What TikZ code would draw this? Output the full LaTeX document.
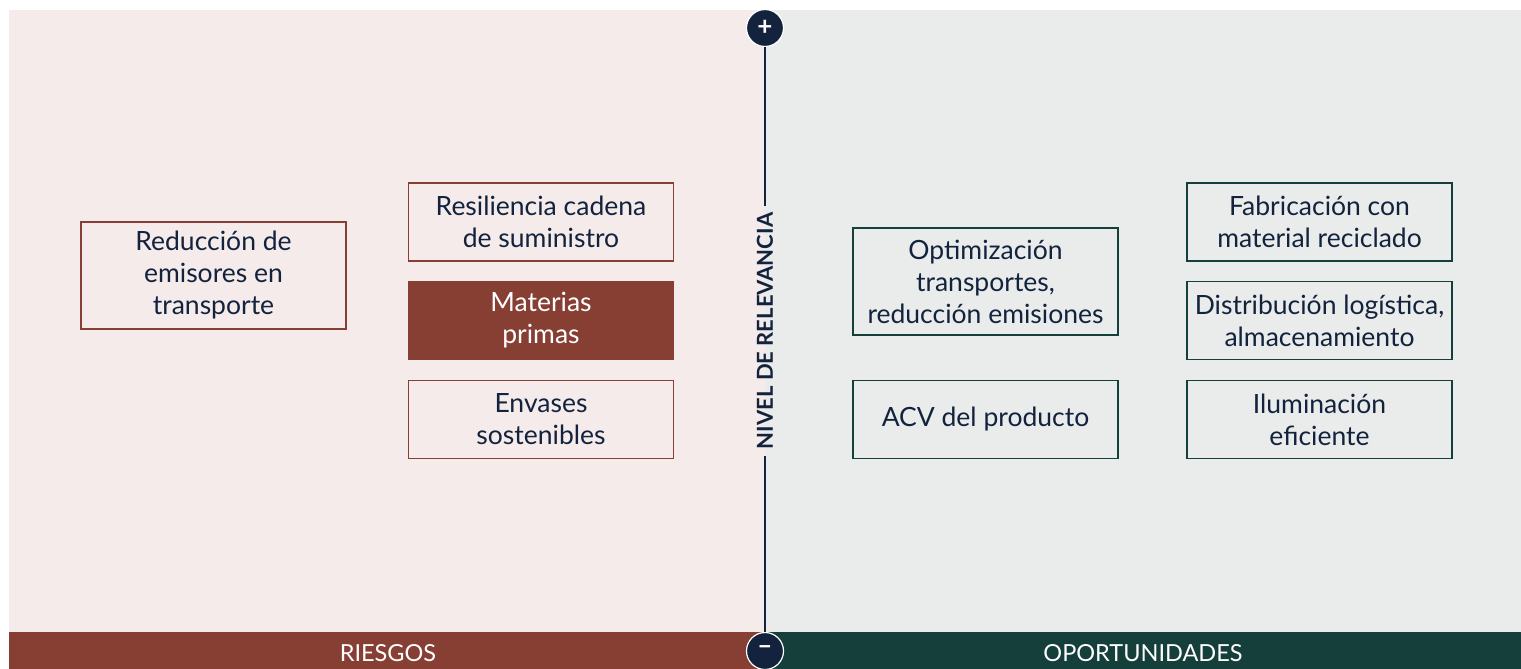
\documentclass[tikz,border=0pt]{standalone}
\usepackage{fontspec}
\setmainfont{Lato}
\usetikzlibrary{positioning,calc}
\definecolor{riskBg}{HTML}{F4EBEA}
\definecolor{oppBg}{HTML}{E9ECEB}
\definecolor{riskRed}{HTML}{873E33}
\definecolor{oppGreen}{HTML}{143F3A}
\definecolor{axisNavy}{HTML}{13233D}
\tikzset{
	riskBox/.style={
		draw=riskRed,
		line width=1.8pt,
		text=axisNavy,
		align=center,
		minimum width=265pt,
		minimum height=78pt,
		font=\fontsize{26.5}{32}\selectfont
	},
	riskBoxDark/.style={
		riskBox,
		fill=riskRed,
		text=white
	},
	oppBox/.style={
		riskBox,
		draw=oppGreen
	},
	axisDot/.style={
		circle,
		fill=axisNavy,
		draw=white,
		line width=1.2pt,
		minimum size=37pt,
		inner sep=0pt,
		text=white,
		font=\fontsize{26}{26}\selectfont\bfseries
	},
	barLabel/.style={
		text=white,
		font=\fontsize{23.5}{23.5}\selectfont
	},
}
\begin{document}
\begin{tikzpicture}[x=1pt, y=-1pt]
\useasboundingbox (0,0) rectangle (1521,669);
\fill[white] (0,0) rectangle (1521,669);

% backgrounds
\fill[riskBg] (9,10) rectangle (765,632);
\fill[oppBg] (765,10) rectangle (1521,632);
\fill[riskRed] (9,632) rectangle (765,669);
\fill[oppGreen] (765,632) rectangle (1521,669);

\node[barLabel] (riesgos) at (388,653) {RIESGOS};
\node[barLabel] (oportunidades) at (1143,653) {OPORTUNIDADES};

% axis
\node[axisDot] (plus) at (765,28) {+};
\node[axisDot] (minus) at (765,651) {\raisebox{1pt}{–}};
\node[rotate=90, text=axisNavy, inner sep=7pt,
	font=\fontsize{22}{22}\selectfont\bfseries] (nivel) at (765,331) {NIVEL DE RELEVANCIA};
\draw[axisNavy, line width=2.4pt] (plus) -- (nivel);
\draw[axisNavy, line width=2.4pt] (nivel) -- (minus);

% riesgos
\node[riskBox, minimum height=107pt] (reduccion) at (213.5,275.5) {Reducción de\\emisores en\\transporte};
\node[riskBox] (resiliencia) at (541,222) {Resiliencia cadena\\de suministro};
\node[riskBoxDark] (materias) at (541,320.5) {Materias\\primas};
\node[riskBox] (envases) at (541,419.5) {Envases\\sostenibles};

% oportunidades
\node[oppBox, minimum height=107pt] (optimizacion) at (985.5,281.5) {Optimización\\transportes,\\reducción emisiones};
\node[oppBox] (acv) at (985.5,419.5) {ACV del producto};
\node[oppBox] (fabricacion) at (1319.5,222) {Fabricación con\\material reciclado};
\node[oppBox] (distribucion) at (1319.5,320.5) {Distribución logística,\\almacenamiento};
\node[oppBox] (iluminacion) at (1319.5,419.5) {Iluminación\\eficiente};

\end{tikzpicture}
\end{document}
